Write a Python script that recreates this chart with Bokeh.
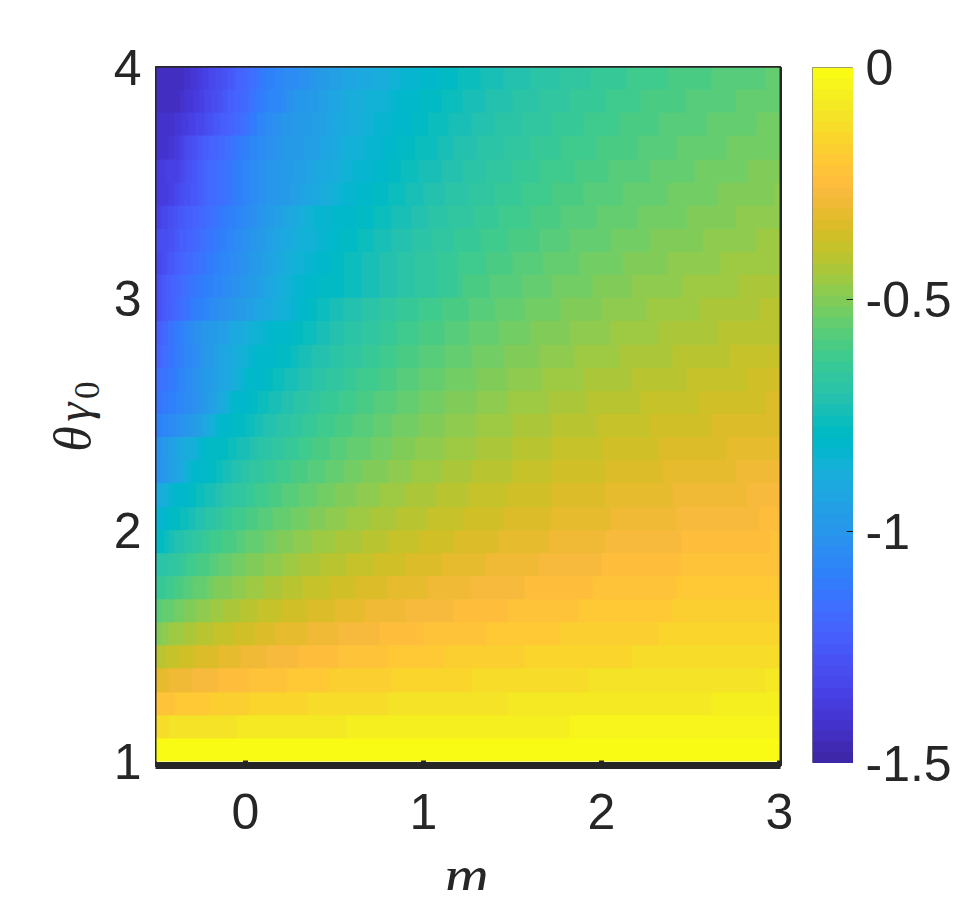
from bokeh.plotting import figure
from bokeh.models import Range1d, LinearAxis, FixedTicker, LinearColorMapper
from bokeh.layouts import row, column
from bokeh.core.properties import value
from bokeh.embed import file_html
from bokeh.resources import INLINE
import numpy as np

# 64-band colour map of the picture
parula = [(0.2422,0.1504,0.6603),(0.2504,0.1650,0.7076),(0.2578,0.1818,0.7511),(0.2647,0.1978,0.7952),
(0.2706,0.2147,0.8364),(0.2751,0.2342,0.8710),(0.2783,0.2559,0.8991),(0.2803,0.2782,0.9221),
(0.2813,0.3006,0.9414),(0.2810,0.3228,0.9579),(0.2795,0.3447,0.9717),(0.2760,0.3667,0.9829),
(0.2699,0.3892,0.9906),(0.2602,0.4123,0.9952),(0.2440,0.4358,0.9988),(0.2206,0.4603,0.9973),
(0.1963,0.4847,0.9892),(0.1834,0.5074,0.9798),(0.1786,0.5289,0.9682),(0.1764,0.5499,0.9520),
(0.1687,0.5703,0.9359),(0.1540,0.5902,0.9218),(0.1460,0.6091,0.9079),(0.1380,0.6276,0.8973),
(0.1248,0.6459,0.8883),(0.1113,0.6635,0.8763),(0.0952,0.6798,0.8598),(0.0689,0.6948,0.8394),
(0.0297,0.7082,0.8163),(0.0036,0.7203,0.7917),(0.0067,0.7312,0.7660),(0.0433,0.7411,0.7394),
(0.0964,0.7500,0.7120),(0.1408,0.7584,0.6842),(0.1717,0.7670,0.6554),(0.1938,0.7758,0.6251),
(0.2161,0.7843,0.5923),(0.2470,0.7918,0.5567),(0.2906,0.7973,0.5188),(0.3406,0.8008,0.4789),
(0.3909,0.8029,0.4354),(0.4456,0.8024,0.3909),(0.5044,0.7993,0.3480),(0.5616,0.7942,0.3045),
(0.6174,0.7876,0.2612),(0.6720,0.7793,0.2227),(0.7242,0.7698,0.1910),(0.7738,0.7598,0.1646),
(0.8203,0.7498,0.1535),(0.8634,0.7406,0.1596),(0.9035,0.7330,0.1774),(0.9393,0.7288,0.2100),
(0.9728,0.7298,0.2394),(0.9956,0.7434,0.2371),(0.9970,0.7659,0.2199),(0.9952,0.7893,0.2028),
(0.9892,0.8136,0.1885),(0.9786,0.8386,0.1766),(0.9676,0.8639,0.1643),(0.9610,0.8890,0.1537),
(0.9597,0.9135,0.1423),(0.9628,0.9373,0.1265),(0.9691,0.9606,0.1064),(0.9769,0.9839,0.0805)]
palette = ["#%02x%02x%02x" % tuple(int(round(c*255)) for c in t) for t in parula]

x_ticks = [0, 1, 2, 3]
y_ticks = [1, 2, 3, 4]
c_ticks = [-1.5, -1, -0.5, 0]
c_tick_labels = ["-1.5", "-1", "-0.5", "0"]
c_tick_marks = [-1, -0.5]

# Each row of the map (row 1 at theta=1, row 30 at theta=4): the m values where the row's
# colour steps up one band, and the band index reached at its right end.
row_01 = []
row_02 = [-0.43,-0.05,0.57,1.82]
row_03 = [-0.40,-0.20,0.02,0.35,0.80,1.47,2.62]
row_04 = [-0.43,-0.30,-0.15,0.02,0.23,0.47,0.82,1.27,1.92,2.92]
row_05 = [-0.45,-0.37,-0.28,-0.15,-0.03,0.12,0.30,0.52,0.80,1.12,1.57,2.17]
row_06 = [-0.47,-0.43,-0.35,-0.28,-0.18,-0.07,0.05,0.17,0.35,0.52,0.75,1.00,1.35,1.77,2.32]
row_07 = [-0.47,-0.40,-0.35,-0.28,-0.20,-0.13,-0.03,0.07,0.20,0.35,0.50,0.67,0.90,1.17,1.47,1.87,2.40]
row_08 = [-0.45,-0.40,-0.35,-0.30,-0.22,-0.18,-0.08,0.00,0.10,0.20,0.32,0.47,0.62,0.80,1.02,1.27,1.57,1.95,2.42]
row_09 = [-0.43,-0.37,-0.33,-0.28,-0.20,-0.15,-0.08,0.00,0.10,0.20,0.30,0.42,0.57,0.72,0.90,1.10,1.35,1.65,2.00,2.45]
row_10 = [-0.46,-0.43,-0.40,-0.35,-0.30,-0.25,-0.20,-0.13,-0.05,0.00,0.10,0.17,0.27,0.37,0.50,0.65,0.80,0.97,1.17,1.42,1.70,2.02,2.45,2.95]
row_11 = [-0.46,-0.43,-0.37,-0.32,-0.28,-0.23,-0.17,-0.13,-0.08,0.00,0.07,0.15,0.25,0.35,0.45,0.57,0.70,0.85,1.02,1.22,1.45,1.72,2.05,2.42,2.89]
row_12 = [-0.48,-0.45,-0.43,-0.40,-0.32,-0.28,-0.23,-0.17,-0.13,-0.08,0.00,0.05,0.13,0.20,0.30,0.40,0.50,0.62,0.75,0.90,1.07,1.25,1.47,1.72,2.02,2.40,2.82]
row_13 = [-0.48,-0.45,-0.43,-0.40,-0.37,-0.36,-0.34,-0.32,-0.30,-0.22,-0.17,-0.13,-0.08,-0.02,0.02,0.10,0.17,0.25,0.35,0.45,0.55,0.65,0.80,0.93,1.10,1.27,1.50,1.72,2.02,2.35,2.75]
row_14 = [-0.48,-0.46,-0.43,-0.40,-0.37,-0.34,-0.30,-0.27,-0.25,-0.22,-0.10,-0.05,0.02,0.07,0.15,0.22,0.30,0.37,0.47,0.57,0.70,0.82,0.95,1.12,1.30,1.50,1.72,2.00,2.32,2.70]
row_15 = [-0.47,-0.43,-0.39,-0.35,-0.31,-0.28,-0.25,-0.23,-0.21,-0.19,-0.17,-0.15,-0.08,0.00,0.05,0.10,0.17,0.25,0.32,0.40,0.50,0.60,0.72,0.82,0.97,1.12,1.30,1.50,1.72,1.97,2.27,2.62]
row_16 = [-0.47,-0.43,-0.39,-0.34,-0.30,-0.26,-0.23,-0.21,-0.18,-0.15,-0.13,-0.11,-0.09,-0.08,0.02,0.07,0.13,0.20,0.27,0.35,0.42,0.52,0.62,0.72,0.85,0.97,1.12,1.30,1.47,1.70,1.92,2.22,2.55,2.92]
row_17 = [-0.47,-0.43,-0.39,-0.37,-0.33,-0.30,-0.27,-0.23,-0.19,-0.15,-0.11,-0.08,-0.05,-0.02,0.00,0.10,0.15,0.22,0.30,0.37,0.45,0.55,0.62,0.75,0.85,0.97,1.12,1.30,1.47,1.67,1.90,2.17,2.48,2.82]
row_18 = [-0.48,-0.46,-0.43,-0.40,-0.37,-0.34,-0.30,-0.27,-0.25,-0.22,-0.18,-0.15,-0.12,-0.08,-0.03,0.01,0.05,0.17,0.25,0.30,0.37,0.47,0.55,0.65,0.75,0.85,0.97,1.12,1.27,1.45,1.65,1.85,2.10,2.40,2.72]
row_19 = [-0.48,-0.46,-0.44,-0.43,-0.40,-0.37,-0.35,-0.32,-0.29,-0.25,-0.20,-0.15,-0.10,-0.08,-0.02,0.02,0.08,0.13,0.25,0.32,0.40,0.47,0.55,0.65,0.75,0.85,0.97,1.12,1.25,1.42,1.60,1.82,2.05,2.32,2.65]
row_20 = [-0.49,-0.47,-0.45,-0.42,-0.40,-0.37,-0.35,-0.31,-0.28,-0.23,-0.20,-0.15,-0.10,-0.05,0.00,0.05,0.10,0.15,0.20,0.25,0.30,0.35,0.40,0.47,0.55,0.65,0.75,0.85,0.97,1.10,1.25,1.40,1.57,1.77,2.00,2.25,2.55,2.89]
row_21 = [-0.49,-0.47,-0.45,-0.42,-0.39,-0.36,-0.32,-0.28,-0.23,-0.18,-0.13,-0.08,-0.03,0.02,0.06,0.10,0.14,0.18,0.22,0.26,0.33,0.40,0.55,0.65,0.75,0.85,0.95,1.07,1.19,1.22,1.37,1.55,1.72,1.95,2.17,2.45,2.77]
row_22 = [-0.47,-0.45,-0.43,-0.40,-0.37,-0.34,-0.30,-0.26,-0.22,-0.18,-0.14,-0.09,-0.04,0.01,0.05,0.09,0.13,0.17,0.21,0.25,0.33,0.40,0.48,0.55,0.65,0.75,0.85,0.95,1.07,1.19,1.35,1.50,1.67,1.87,2.12,2.37,2.67]
row_23 = [-0.43,-0.40,-0.37,-0.33,-0.30,-0.26,-0.22,-0.18,-0.14,-0.10,-0.06,-0.02,0.03,0.07,0.11,0.15,0.20,0.25,0.30,0.40,0.47,0.53,0.63,0.72,0.82,0.93,1.05,1.17,1.32,1.47,1.65,1.82,2.05,2.27,2.57,2.87]
row_24 = [-0.47,-0.44,-0.41,-0.38,-0.34,-0.30,-0.26,-0.22,-0.18,-0.14,-0.10,-0.05,-0.01,0.04,0.08,0.12,0.16,0.20,0.24,0.29,0.33,0.38,0.48,0.61,0.72,0.82,0.93,1.02,1.14,1.28,1.42,1.60,1.77,1.97,2.20,2.48,2.75]
row_25 = [-0.43,-0.40,-0.37,-0.35,-0.31,-0.27,-0.24,-0.22,-0.17,-0.12,-0.08,-0.05,-0.01,0.03,0.07,0.12,0.19,0.25,0.31,0.37,0.42,0.48,0.53,0.61,0.70,0.80,0.90,1.00,1.12,1.25,1.40,1.55,1.72,1.90,2.12,2.37,2.65,2.97]
row_26 = [-0.45,-0.37,-0.35,-0.33,-0.30,-0.27,-0.24,-0.22,-0.17,-0.12,-0.08,-0.05,-0.01,0.03,0.07,0.12,0.20,0.27,0.34,0.39,0.48,0.53,0.60,0.72,0.80,0.87,0.97,1.10,1.22,1.35,1.50,1.65,1.85,2.04,2.27,2.52,2.82]
row_27 = [-0.43,-0.40,-0.37,-0.35,-0.33,-0.30,-0.27,-0.24,-0.21,-0.16,-0.12,-0.08,-0.05,-0.01,0.02,0.07,0.12,0.17,0.22,0.33,0.42,0.48,0.52,0.57,0.67,0.77,0.85,0.95,1.08,1.17,1.30,1.45,1.60,1.77,1.97,2.20,2.42,2.70]
row_28 = [-0.40,-0.36,-0.32,-0.28,-0.23,-0.21,-0.18,-0.14,-0.10,-0.07,-0.03,0.00,0.03,0.06,0.07,0.11,0.15,0.20,0.27,0.37,0.45,0.50,0.57,0.65,0.72,0.82,0.93,1.02,1.14,1.27,1.40,1.55,1.72,1.90,2.10,2.32,2.59,2.87]
row_29 = [-0.37,-0.34,-0.29,-0.26,-0.23,-0.19,-0.15,-0.13,-0.10,-0.07,-0.03,0.01,0.03,0.06,0.09,0.13,0.20,0.23,0.27,0.35,0.41,0.46,0.52,0.57,0.67,0.80,0.85,0.97,1.10,1.22,1.35,1.50,1.65,1.82,2.02,2.22,2.47,2.75]
row_30 = [-0.35,-0.31,-0.27,-0.24,-0.21,-0.17,-0.13,-0.10,-0.07,-0.05,-0.01,0.02,0.06,0.08,0.12,0.17,0.22,0.30,0.36,0.41,0.47,0.54,0.62,0.72,0.80,0.87,0.97,1.08,1.19,1.32,1.45,1.60,1.77,1.94,2.14,2.37,2.62,2.92]
end_bands = [63,62,61,60,58,57,56,55,54,54,53,52,51,50,49,49,48,47,46,46,45,44,44,43,43,42,41,41,40,40]

rows = [row_01,row_02,row_03,row_04,row_05,row_06,row_07,row_08,row_09,row_10,
        row_11,row_12,row_13,row_14,row_15,row_16,row_17,row_18,row_19,row_20,
        row_21,row_22,row_23,row_24,row_25,row_26,row_27,row_28,row_29,row_30]

LOW, HIGH = -1.5, 0.0
N = len(palette)
band_value = lambda b: LOW + (HIGH - LOW) * (np.asarray(b) + 0.5) / N
cols = -0.5 + (np.arange(700) + 0.5) * 0.005
Z = np.zeros((len(rows), cols.size))
for r, (breaks, end) in enumerate(zip(rows, end_bands)):
    bands = end - len(breaks) + np.searchsorted(np.array(breaks, dtype=float), cols, side="right")
    Z[r] = band_value(bands)

mapper = LinearColorMapper(palette=palette, low=LOW, high=HIGH)
INK = "#262626"
TICK_FONT = "Liberation Sans"
TICK_SIZE = "50px"
GUTTER_H = 860
STRIP_H = 70
PX_Y = 231.33
PX_C = 464.0

def bare(**kw):
    f = figure(x_axis_type=None, y_axis_type=None, output_backend="svg", toolbar_location=None,
               min_border_left=0, min_border_right=0, min_border_top=0, min_border_bottom=0,
               outline_line_color=None, **kw)
    f.grid.visible = False
    return f

# left gutter: y tick labels and y title
g = bare(frame_width=155, frame_height=GUTTER_H, x_range=Range1d(0, 155),
         y_range=Range1d(4 - (GUTTER_H - 66) / PX_Y, 4 + 66 / PX_Y), align="start")
g.text(x=[141] * len(y_ticks), y=y_ticks, text=[str(v) for v in y_ticks], y_offset=1, text_align="right",
       text_baseline="middle", text_font=value(TICK_FONT), text_font_size=TICK_SIZE, text_color=INK)
g.text(x=[72], y=[2.39], text=["θ"], angle=np.pi/2, text_align="center", text_baseline="middle",
       text_font=value("Liberation Serif"), text_font_style="italic", text_font_size="52px", text_color=INK)
g.text(x=[73], y=[2.506], text=["γ"], angle=np.pi/2, text_align="center", text_baseline="middle",
       text_font=value("Liberation Serif"), text_font_style="italic", text_font_size="48px", text_color=INK)
g.text(x=[86], y=[2.600], text=["0"], angle=np.pi/2, text_align="center", text_baseline="middle",
       text_font=value("Liberation Serif"), text_font_size="35px", text_color=INK)

# main map
p = figure(frame_width=625, frame_height=698, min_border_left=0, min_border_right=20,
           min_border_top=66, min_border_bottom=100,
           x_range=Range1d(-0.5 - 1/178, 3 + 1/178), y_range=Range1d(1 - 4/PX_Y, 4),
           x_axis_type=None, y_axis_type=None, output_backend="svg", toolbar_location=None,
           outline_line_color=INK, outline_line_width=3, align="start")
p.grid.visible = False
p.image(image=[Z], x=-0.5, y=1, dw=3.5, dh=3, color_mapper=mapper)
xax = LinearAxis(ticker=FixedTicker(ticks=x_ticks), axis_line_color=INK, axis_line_width=7,
                 major_tick_in=5, major_tick_out=0, major_tick_line_color=INK, major_tick_line_width=5,
                 minor_tick_line_color=None, major_label_standoff=28,
                 major_label_text_font=TICK_FONT, major_label_text_font_size=TICK_SIZE,
                 major_label_text_color=INK)
p.add_layout(xax, "below")

# colour bar
cb = figure(frame_width=41, frame_height=696, min_border_left=12, min_border_right=0,
            min_border_top=67, min_border_bottom=0,
            x_range=Range1d(0, 1), y_range=Range1d(LOW, HIGH), x_axis_type=None, y_axis_type=None,
            output_backend="svg", toolbar_location=None, outline_line_color="#808080", outline_line_width=1,
            align="start")
cb.grid.visible = False
cb.image(image=[band_value(np.arange(N)).reshape(N, 1)], x=0, y=LOW, dw=1, dh=HIGH - LOW, color_mapper=mapper)
cb.segment(x0=[0.83] * len(c_tick_marks), x1=[1] * len(c_tick_marks), y0=c_tick_marks, y1=c_tick_marks,
           line_color="#1a1a1a", line_width=1)

# right gutter: colour bar labels
h = bare(frame_width=113, frame_height=GUTTER_H, x_range=Range1d(0, 113),
         y_range=Range1d(-(GUTTER_H - 67) / PX_C, 67 / PX_C), align="start")
h.text(x=[12] * len(c_ticks), y=c_ticks, text=c_tick_labels, y_offset=0, text_align="left",
       text_baseline="middle", text_font=value(TICK_FONT), text_font_size=TICK_SIZE, text_color=INK)

# bottom strip: x title, drawn transparently over the empty bottom of the map's canvas
s = bare(frame_width=934, frame_height=STRIP_H, x_range=Range1d(0, 934), y_range=Range1d(0, STRIP_H),
         margin=(-44, 0, 0, 0), border_fill_color=None, background_fill_color=None)
s.text(x=[466], y=[15], text=["m"], text_align="center", text_baseline="alphabetic",
       text_font=value("Liberation Serif"), text_font_style="italic", text_font_size="62px", text_color=INK)

open("out.html", "w").write(file_html(column(row(g, column(row(p, cb)), h), s), INLINE))
